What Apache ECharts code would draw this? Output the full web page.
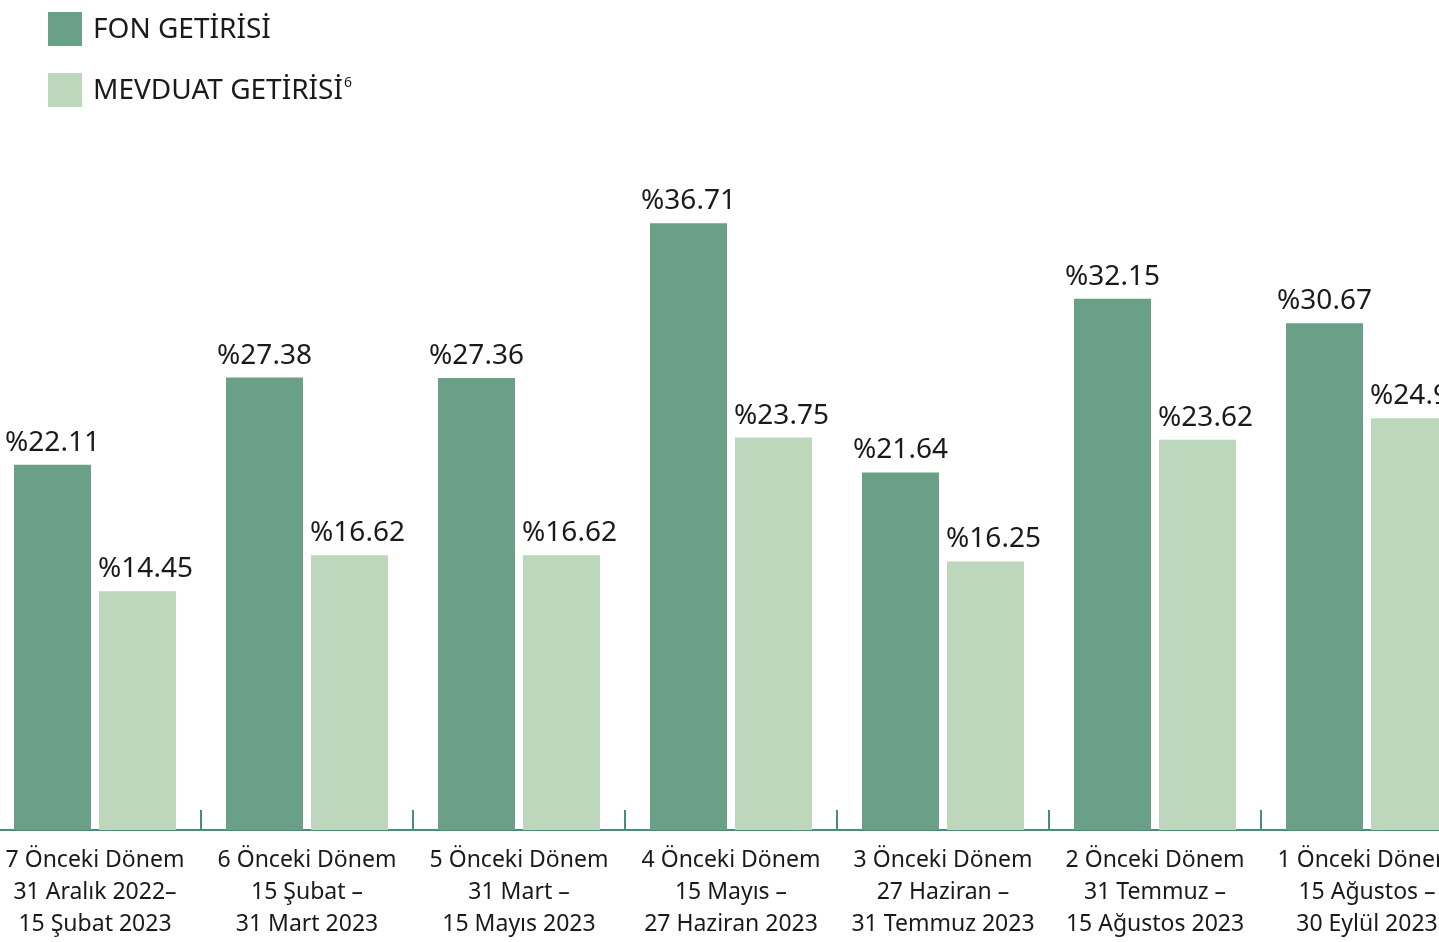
<!DOCTYPE html>
<html>
<head>
<meta charset="utf-8">
<script src="https://cdn.jsdelivr.net/npm/echarts@6/dist/echarts.min.js"></script>
<style>
html,body{margin:0;padding:0;background:#fff;}
#chart{width:1439px;height:942px;}
</style>
</head>
<body>
<div id="chart"></div>
<script>
const categories = [
  "7 Önceki Dönem\n31 Aralık 2022–\n15 Şubat 2023",
  "6 Önceki Dönem\n15 Şubat –\n31 Mart 2023",
  "5 Önceki Dönem\n31 Mart –\n15 Mayıs 2023",
  "4 Önceki Dönem\n15 Mayıs –\n27 Haziran 2023",
  "3 Önceki Dönem\n27 Haziran –\n31 Temmuz 2023",
  "2 Önceki Dönem\n31 Temmuz –\n15 Ağustos 2023",
  "1 Önceki Dönem\n15 Ağustos –\n30 Eylül 2023"
];
const fonGetirisi = [22.11, 27.38, 27.36, 36.71, 21.64, 32.15, 30.67];
const mevduatGetirisi = [14.45, 16.62, 16.62, 23.75, 16.25, 23.62, 24.92];
const seriesNames = ["FON GETİRİSİ", "MEVDUAT GETİRİSİ"];

const FONT = "'Noto Sans', 'Open Sans', sans-serif";
const chart = echarts.init(document.getElementById('chart'));
function labelCfg(dx) {
  return {
    show: true,
    position: 'top',
    distance: 8,
    offset: [dx, 0],
    color: '#1a1a1a',
    fontFamily: FONT,
    fontSize: 28,
    lineHeight: 28,
    formatter: p => '%' + p.value.toFixed(2)
  };
}
chart.setOption({
  animation: false,
  textStyle: { fontFamily: FONT },
  legend: {
    orient: 'vertical',
    left: 48,
    top: 12,
    padding: 0,
    itemWidth: 34,
    itemHeight: 34,
    itemGap: 27,
    icon: 'rect',
    selectedMode: false,
    textStyle: {
      color: '#1a1a1a',
      fontFamily: FONT,
      fontSize: 28,
      padding: [3, 0, 0, 6],
      rich: {
        a: { fontFamily: FONT, fontSize: 28, color: '#1a1a1a' },
        sup: { fontFamily: FONT, fontSize: 14, color: '#1a1a1a', padding: [0, 0, 16, 1] }
      }
    },
    formatter: name => name === seriesNames[1] ? '{a|' + name + '}{sup|6}' : '{a|' + name + '}',
    data: seriesNames
  },
  grid: { left: -11, right: -34, top: 169, bottom: 112, containLabel: false, outerBoundsMode: 'none' },
  xAxis: {
    type: 'category',
    data: categories,
    axisLine: { lineStyle: { color: '#4a8b7c', width: 2 } },
    axisTick: { show: true, inside: true, length: 20, lineStyle: { color: '#4a8b7c', width: 2 } },
    axisLabel: {
      interval: 0,
      margin: 14,
      color: '#1a1a1a',
      fontFamily: FONT,
      fontSize: 23,
      lineHeight: 32
    }
  },
  yAxis: { type: 'value', min: 0, max: 40, show: false, splitLine: { show: false } },
  series: [
    {
      name: seriesNames[0],
      type: 'bar',
      data: fonGetirisi,
      barWidth: 77,
      barGap: '10.4%',
      itemStyle: { color: '#6a9f88' },
      label: labelCfg(0)
    },
    {
      name: seriesNames[1],
      type: 'bar',
      data: mevduatGetirisi,
      barWidth: 77,
      barGap: '10.4%',
      itemStyle: { color: '#bcd7bc' },
      label: labelCfg(8)
    }
  ]
});
</script>
</body>
</html>
